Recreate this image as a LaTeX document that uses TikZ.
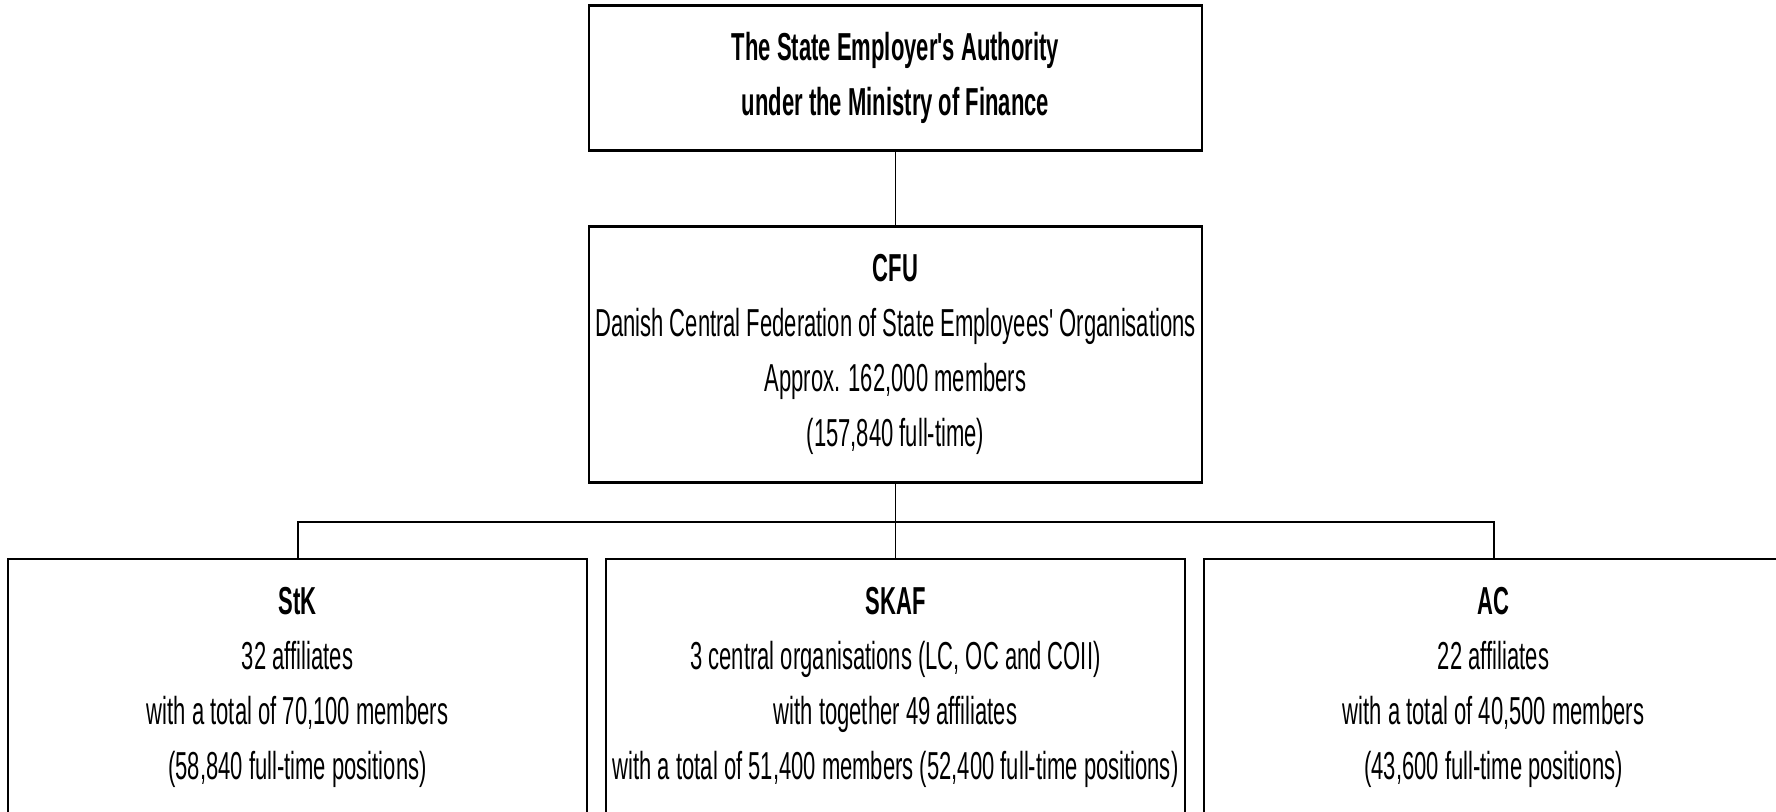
\documentclass[tikz,border=0pt]{standalone}
\usepackage{fontspec}
\setmainfont{Liberation Sans}[FakeStretch=0.565, Ligatures=TeXOff]
\usetikzlibrary{positioning}

\tikzset{
	orgbox/.style={draw, line width=1.2pt, align=center, inner sep=2pt,
		minimum width=306.5pt, minimum height=72.5pt,
		font=\fontsize{19.5}{27.5}\selectfont},
	unitbox/.style={orgbox, minimum width=289.5pt, minimum height=128pt},
	link/.style={line width=0.7pt},
	buslink/.style={line width=1pt},
}

\begin{document}
\begin{tikzpicture}[x=0.5pt, y=-0.5pt]
			\clip (0,0) rectangle (1776,811);
			\fill[white] (0,0) rectangle (1776,811);

			\node[orgbox] (sea) at (895.5,78) {\textbf{The State Employer's Authority}\\\textbf{under the Ministry of Finance}};
			\node[orgbox, minimum height=128pt] (cfu) at (895.5,354.5) {\textbf{CFU}\\Danish Central Federation of State Employees' Organisations\\Approx. 162,000 members\\(157,840 full-time)};

			\node[unitbox] (stk) at (297.5,687) {\textbf{StK}\\32 affiliates\\with a total of 70,100 members\\(58,840 full-time positions)};
			\node[unitbox] (skaf) at (895.5,687) {\textbf{SKAF}\\3 central organisations (LC, OC and COII)\\with together 49 affiliates\\with a total of 51,400 members (52,400 full-time positions)};
			\node[unitbox] (ac) at (1493.5,687) {\textbf{AC}\\22 affiliates\\with a total of 40,500 members\\(43,600 full-time positions)};

			\coordinate (bus) at (895.5,522);

			\draw[link] (sea) -- (cfu);
			\draw[link] (cfu) -- (skaf);
			\draw[buslink] (stk.north) |- (bus) -| (ac.north);
\end{tikzpicture}
\end{document}
